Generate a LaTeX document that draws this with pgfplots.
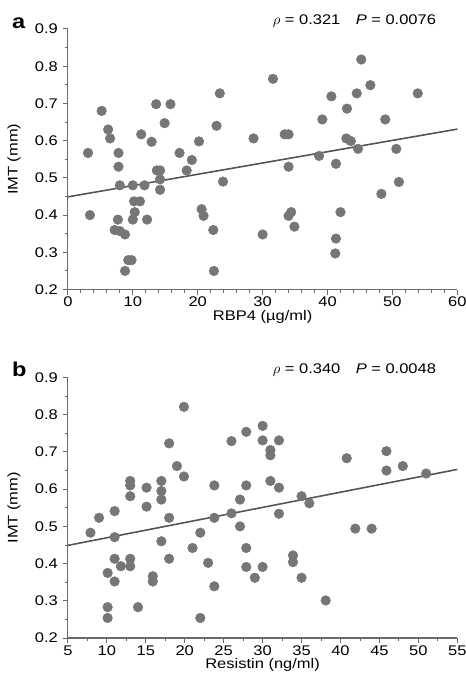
\documentclass[border=0pt]{standalone}
\usepackage{pgfplots}
\pgfplotsset{compat=1.18}
\usepackage{fontspec}
\setmainfont{Liberation Sans}[FakeStretch=1.18]

\definecolor{dotgray}{HTML}{767676}
\definecolor{axgray}{HTML}{6A6A6A}
\definecolor{fitgray}{HTML}{555555}

\pgfplotsset{
  panel/.style={
    scale only axis,
    width=292.5pt, height=195.75pt,
    axis lines=left,
    axis line style={axgray, line width=0.9pt, -},
    tick align=outside,
    tick style={axgray, line width=0.7pt},
    major tick length=4pt,
    minor tick length=2.2pt,
    ymin=0.2, ymax=0.9,
    ytick={0.2,0.3,...,0.9},
    yticklabels={0.2,0.3,0.4,0.5,0.6,0.7,0.8,0.9},
    minor y tick num=1,
    font=\fontsize{10.5}{12.5}\selectfont,
    /pgf/number format/assume math mode=true,
    xticklabel style={yshift=2pt},
    ylabel={IMT (mm)},
    ylabel style={yshift=4pt},
    xlabel style={yshift=4.5pt},
    clip=false,
  },
  dots/.style={only marks, mark=*, mark size=3.6pt, dotgray, mark options={draw=dotgray, fill=dotgray}},
  fit/.style={fitgray, line width=1.2pt, no marks},
}

\begin{document}
\begin{tikzpicture}
\path[use as bounding box] (-51pt,-294pt) rectangle (298.5pt,217.5pt);

\begin{axis}[panel, at={(0,0)}, anchor=south west,
  xmin=0, xmax=60, xtick={0,10,...,60}, minor x tick num=4,
  xlabel={RBP4 (µg/ml)}]
\addplot[dots] coordinates {
(3.1,0.567) (3.4,0.40) (5.2,0.68) (6.2,0.63) (6.5,0.606) (7.8,0.567)
(7.8,0.53) (8.0,0.48) (10.0,0.48) (11.8,0.48) (10.2,0.437) (11.1,0.437)
(10.3,0.408) (10.0,0.388) (12.2,0.388) (7.7,0.388) (7.2,0.36) (8.0,0.357)
(8.8,0.348) (9.3,0.279) (9.8,0.279) (8.8,0.25) (11.3,0.617) (12.9,0.597)
(13.6,0.698) (15.8,0.698) (14.9,0.647) (13.7,0.52) (14.2,0.52) (14.2,0.496)
(14.2,0.468) (17.2,0.567) (18.3,0.52) (19.1,0.548) (20.2,0.598) (20.6,0.416)
(20.9,0.398) (22.4,0.36) (22.5,0.25) (22.9,0.64) (23.4,0.727) (23.9,0.49)
(28.6,0.606) (30.0,0.348) (31.6,0.766) (33.4,0.617) (34.0,0.617) (34.0,0.53)
(34.4,0.408) (34.0,0.398) (34.9,0.369) (38.7,0.559) (39.2,0.657) (40.6,0.719)
(41.3,0.538) (42.0,0.408) (41.3,0.337) (41.2,0.297) (43.0,0.686) (44.5,0.727)
(42.9,0.606) (43.6,0.599) (44.7,0.578) (45.2,0.818) (46.6,0.749) (48.9,0.657)
(50.6,0.578) (51.0,0.489) (48.3,0.457) (53.9,0.727)
};
\addplot[fit] coordinates {(0,0.449) (60,0.631)};
\node[anchor=south east, inner sep=0pt] at ([yshift=1pt]rel axis cs:0.946,1.0)
  {$\rho$ = 0.321\hspace{1.1em}\textit{P} = 0.0076};
\node[anchor=south west, inner sep=0pt, font=\fontsize{15}{15}\selectfont\bfseries]
  at ([xshift=-42pt]rel axis cs:0,1) {a};
\end{axis}

\begin{axis}[panel, at={(0,-261.75pt)}, anchor=south west,
  xmin=5, xmax=55, xtick={5,10,...,55}, minor x tick num=1,
  xlabel={Resistin (ng/ml)}]
\addplot[dots] coordinates {
(7.9,0.483) (9.0,0.523) (11.0,0.541) (11.0,0.471) (11.0,0.413) (11.8,0.393)
(13.0,0.413) (13.0,0.393) (10.1,0.375) (11.0,0.352) (10.1,0.283) (10.1,0.254)
(13.0,0.622) (13.0,0.61) (13.0,0.581) (14.0,0.283) (15.1,0.604) (15.1,0.553)
(15.9,0.366) (15.9,0.352) (17.0,0.622) (17.0,0.595) (17.0,0.572) (17.0,0.46)
(18.0,0.523) (18.0,0.413) (18.0,0.723) (19.0,0.662) (19.9,0.634) (19.9,0.821)
(21.0,0.442) (22.0,0.483) (22.0,0.254) (23.0,0.402) (23.8,0.61) (23.8,0.523)
(23.8,0.339) (26.0,0.729) (26.0,0.535) (27.1,0.572) (27.1,0.50) (27.9,0.754)
(27.9,0.61) (27.9,0.442) (27.9,0.391) (29.0,0.362) (30.0,0.77) (30.0,0.731)
(32.1,0.731) (31.0,0.705) (31.0,0.691) (31.0,0.622) (32.1,0.604) (32.1,0.534)
(30.0,0.391) (33.9,0.422) (33.9,0.404) (35.0,0.362) (35.0,0.581) (36.0,0.562)
(38.1,0.301) (40.8,0.683) (41.9,0.494) (44.0,0.494) (45.9,0.702) (45.9,0.65)
(48.0,0.662) (51.0,0.642)
};
\addplot[fit] coordinates {(5,0.449) (55,0.653)};
\node[anchor=south east, inner sep=0pt] at ([yshift=1pt]rel axis cs:0.946,1.0)
  {$\rho$ = 0.340\hspace{1.1em}\textit{P} = 0.0048};
\node[anchor=south west, inner sep=0pt, font=\fontsize{15}{15}\selectfont\bfseries]
  at ([xshift=-42pt]rel axis cs:0,1) {b};
\end{axis}
\end{tikzpicture}
\end{document}
